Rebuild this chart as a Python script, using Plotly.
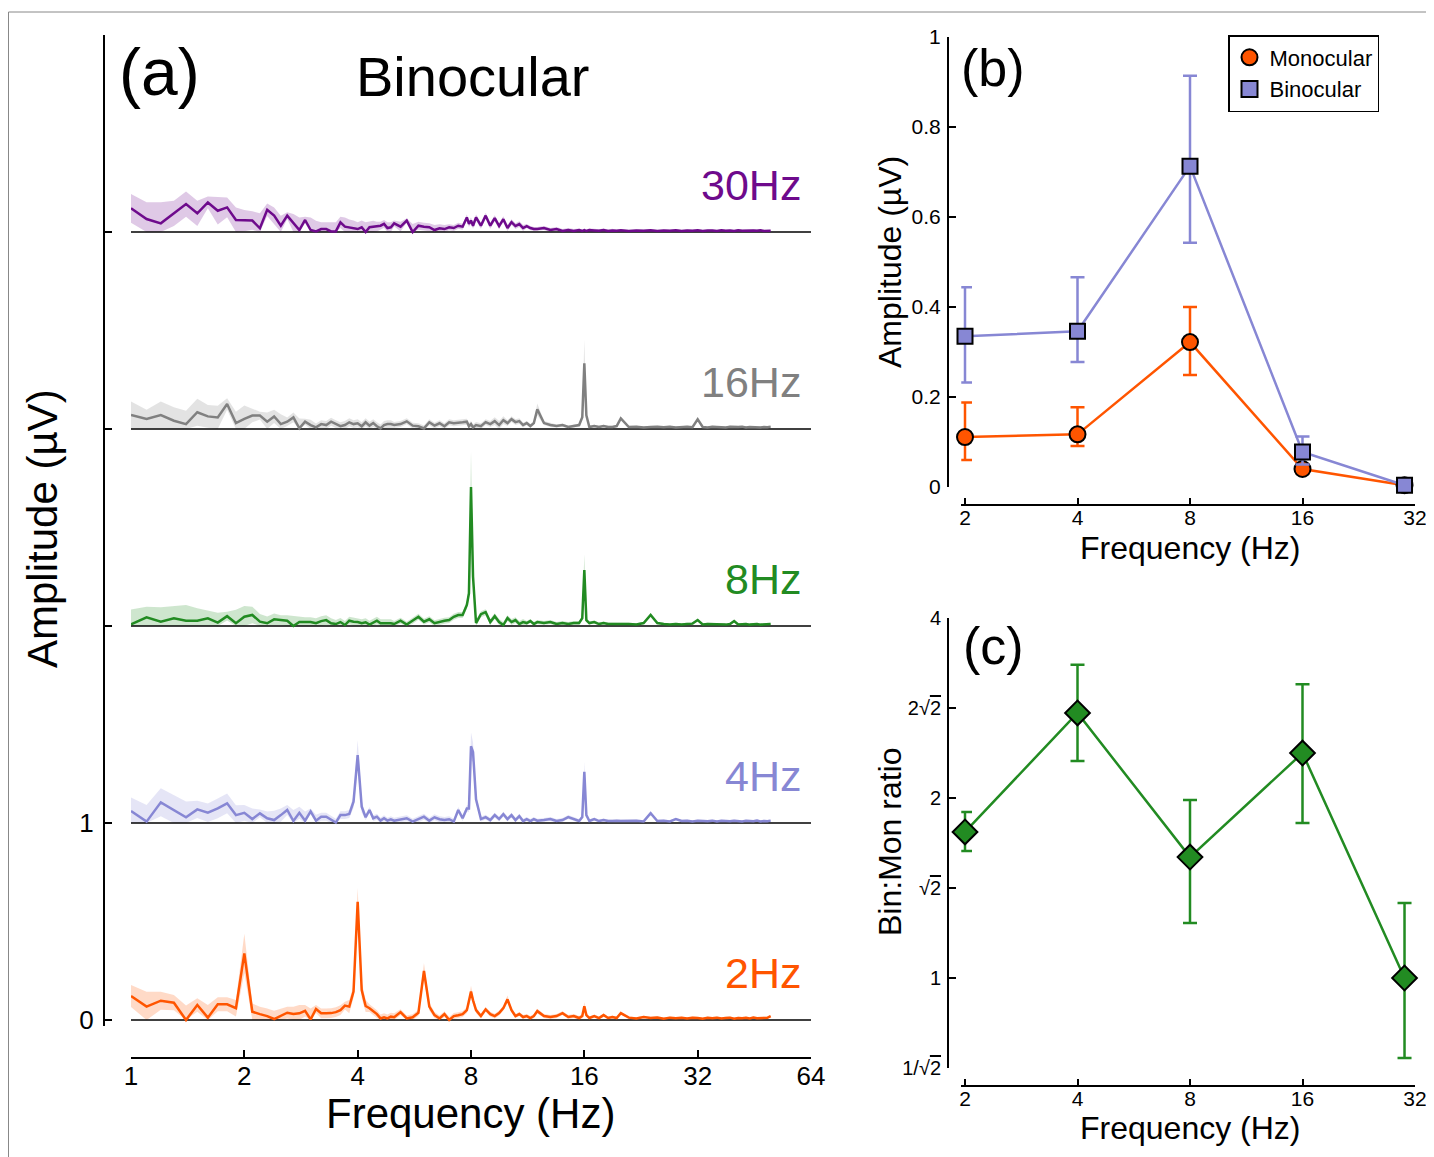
import numpy as np
import plotly.graph_objects as go

# ---------------- data: panel (a) spectra ----------------
FREQ = [1.0, 1.1, 1.2, 1.3, 1.4, 1.5, 1.6, 1.7, 1.8, 1.9,
        2.0, 2.1, 2.2, 2.3, 2.4, 2.5, 2.6, 2.7, 2.8, 2.9,
        3.0, 3.1, 3.2, 3.3, 3.4, 3.5, 3.6, 3.7, 3.8, 3.9,
        4.0, 4.1, 4.2, 4.3, 4.4, 4.5, 4.6, 4.7, 4.8, 4.9,
        5.0, 5.2, 5.4, 5.6, 5.8, 6.0, 6.2, 6.4, 6.6, 6.8,
        7.0, 7.2, 7.4, 7.6, 7.8, 7.9, 8.0, 8.1, 8.25, 8.5,
        8.75, 9.0, 9.25, 9.5, 9.75, 10.0, 10.25, 10.5, 10.75, 11.0,
        11.25, 11.5, 11.75, 12.0, 12.5, 13.0, 13.5, 14.0, 14.5, 15.0,
        15.5, 15.8, 16.0, 16.2, 16.5, 17.0, 17.5, 18.0, 18.5, 19.0,
        19.5, 20.0, 21, 22, 23, 24, 25, 26, 27, 28,
        29, 30, 31, 32, 33, 34, 35, 36, 37, 38,
        39, 40, 41, 42, 43, 44, 45, 46, 47, 48,
        49, 50]

AMP_2HZ = [0.122, 0.068, 0.098, 0.088, 0.0, 0.076, 0.012, 0.08, 0.08, 0.06,
           0.338, 0.042, 0.03, 0.02, 0.005, 0.02, 0.037, 0.03, 0.034, 0.047,
           0.003, 0.056, 0.034, 0.034, 0.035, 0.04, 0.05, 0.073, 0.068, 0.144,
           0.60, 0.152, 0.071, 0.06, 0.047, 0.03, 0.008, 0.014, 0.008, 0.017,
           0.014, 0.04, 0.008, 0.014, 0.037, 0.249, 0.068, 0.025, 0.008, 0.03,
           0.0, 0.02, 0.024, 0.03, 0.05, 0.09, 0.144, 0.10, 0.05, 0.02,
           0.054, 0.03, 0.02, 0.035, 0.06, 0.105, 0.05, 0.02, 0.03, 0.015,
           0.02, 0.01, 0.02, 0.045, 0.02, 0.015, 0.02, 0.035, 0.015, 0.02,
           0.01, 0.02, 0.07, 0.025, 0.01, 0.02, 0.01, 0.025, 0.01, 0.015,
           0.01, 0.035, 0.012, 0.008, 0.015, 0.01, 0.013, 0.007, 0.012, 0.009,
           0.011, 0.008, 0.012, 0.01, 0.007, 0.011, 0.009, 0.012, 0.008, 0.01,
           0.012, 0.007, 0.01, 0.009, 0.011, 0.008, 0.012, 0.009, 0.01, 0.008,
           0.011, 0.02]
SE_2HZ = [0.056, 0.076, 0.046, 0.039, 0.073, 0.034, 0.064, 0.036, 0.036, 0.042,
          0.10, 0.042, 0.037, 0.039, 0.042, 0.039, 0.03, 0.037, 0.042, 0.029,
          0.056, 0.02, 0.025, 0.025, 0.025, 0.025, 0.025, 0.02, 0.034, 0.03,
          0.07, 0.04, 0.03, 0.02, 0.02, 0.02, 0.02, 0.02, 0.02, 0.02,
          0.02, 0.015, 0.015, 0.015, 0.015, 0.04, 0.02, 0.015, 0.015, 0.015,
          0.015, 0.015, 0.015, 0.015, 0.015, 0.02, 0.03, 0.02, 0.015, 0.012,
          0.012, 0.012, 0.012, 0.012, 0.012, 0.02, 0.012, 0.01, 0.01, 0.01,
          0.01, 0.01, 0.01, 0.012, 0.01, 0.01, 0.01, 0.01, 0.01, 0.01,
          0.01, 0.01, 0.02, 0.01, 0.008, 0.008, 0.008, 0.008, 0.008, 0.008,
          0.006, 0.008, 0.006, 0.006, 0.006, 0.006, 0.006, 0.006, 0.006, 0.006,
          0.006, 0.006, 0.006, 0.006, 0.006, 0.006, 0.006, 0.006, 0.006, 0.006,
          0.006, 0.006, 0.006, 0.006, 0.006, 0.006, 0.006, 0.006, 0.006, 0.006,
          0.006, 0.006]

AMP_4HZ = [0.061, 0.007, 0.105, 0.066, 0.029, 0.069, 0.052, 0.074, 0.10, 0.04,
           0.052, 0.02, 0.049, 0.024, 0.015, 0.04, 0.066, 0.01, 0.052, 0.012,
           0.059, 0.012, 0.032, 0.032, 0.015, 0.002, 0.04, 0.04, 0.046, 0.108,
           0.345, 0.083, 0.029, 0.066, 0.024, 0.032, 0.012, 0.024, 0.012, 0.019,
           0.012, 0.019, 0.024, 0.007, 0.019, 0.032, 0.012, 0.029, 0.019, 0.015,
           0.019, 0.007, 0.066, 0.024, 0.074, 0.074, 0.39, 0.36, 0.12, 0.02,
           0.03, 0.015, 0.04, 0.02, 0.045, 0.02, 0.04, 0.015, 0.035, 0.01,
           0.02, 0.01, 0.02, 0.012, 0.015, 0.02, 0.01, 0.015, 0.03, 0.02,
           0.01, 0.03, 0.26, 0.04, 0.01, 0.02, 0.01, 0.015, 0.01, 0.01,
           0.012, 0.01, 0.01, 0.012, 0.008, 0.05, 0.01, 0.012, 0.008, 0.02,
           0.01, 0.012, 0.008, 0.011, 0.01, 0.009, 0.012, 0.008, 0.011, 0.01,
           0.009, 0.012, 0.01, 0.008, 0.011, 0.01, 0.009, 0.012, 0.008, 0.01,
           0.009, 0.012]
SE_4HZ = [0.069, 0.085, 0.071, 0.076, 0.08, 0.044, 0.047, 0.05, 0.05, 0.05,
          0.04, 0.054, 0.02, 0.034, 0.047, 0.034, 0.025, 0.056, 0.03, 0.046,
          0.015, 0.03, 0.02, 0.02, 0.02, 0.02, 0.02, 0.02, 0.02, 0.03,
          0.076, 0.03, 0.015, 0.015, 0.015, 0.015, 0.015, 0.015, 0.015, 0.015,
          0.015, 0.015, 0.015, 0.015, 0.015, 0.015, 0.015, 0.015, 0.015, 0.015,
          0.015, 0.015, 0.015, 0.015, 0.015, 0.02, 0.07, 0.05, 0.02, 0.012,
          0.012, 0.012, 0.012, 0.012, 0.012, 0.012, 0.012, 0.012, 0.012, 0.012,
          0.01, 0.01, 0.01, 0.01, 0.01, 0.01, 0.01, 0.01, 0.01, 0.01,
          0.01, 0.01, 0.05, 0.01, 0.008, 0.008, 0.008, 0.008, 0.008, 0.008,
          0.006, 0.006, 0.006, 0.006, 0.006, 0.006, 0.006, 0.006, 0.006, 0.006,
          0.006, 0.006, 0.006, 0.006, 0.006, 0.006, 0.006, 0.006, 0.006, 0.006,
          0.006, 0.006, 0.006, 0.006, 0.006, 0.006, 0.006, 0.006, 0.006, 0.006,
          0.006, 0.006]

AMP_8HZ = [0.008, 0.044, 0.022, 0.039, 0.027, 0.027, 0.039, 0.017, 0.05, 0.014,
           0.047, 0.056, 0.022, 0.014, 0.034, 0.03, 0.027, 0.0, 0.02, 0.02,
           0.02, 0.014, 0.025, 0.03, 0.014, 0.01, 0.02, 0.005, 0.027, 0.022,
           0.02, 0.014, 0.019, 0.007, 0.017, 0.027, 0.014, 0.014, 0.017, 0.014,
           0.01, 0.027, 0.007, 0.027, 0.047, 0.022, 0.034, 0.014, 0.022, 0.027,
           0.03, 0.047, 0.056, 0.056, 0.107, 0.166, 0.706, 0.25, 0.015, 0.06,
           0.07, 0.02, 0.05, 0.02, 0.005, 0.04, 0.02, 0.03, 0.01, 0.02,
           0.015, 0.025, 0.01, 0.02, 0.015, 0.02, 0.01, 0.015, 0.01, 0.015,
           0.015, 0.04, 0.284, 0.03, 0.015, 0.02, 0.01, 0.015, 0.01, 0.01,
           0.01, 0.012, 0.01, 0.008, 0.015, 0.056, 0.015, 0.01, 0.008, 0.01,
           0.008, 0.01, 0.012, 0.03, 0.008, 0.01, 0.009, 0.008, 0.01, 0.007,
           0.01, 0.025, 0.008, 0.009, 0.01, 0.007, 0.008, 0.01, 0.007, 0.008,
           0.009, 0.01]
SE_8HZ = [0.076, 0.054, 0.073, 0.063, 0.08, 0.063, 0.039, 0.05, 0.022, 0.068,
          0.054, 0.042, 0.039, 0.034, 0.03, 0.025, 0.027, 0.05, 0.027, 0.025,
          0.025, 0.025, 0.025, 0.025, 0.025, 0.02, 0.02, 0.02, 0.02, 0.02,
          0.02, 0.02, 0.02, 0.02, 0.02, 0.02, 0.02, 0.02, 0.02, 0.02,
          0.015, 0.015, 0.015, 0.015, 0.015, 0.015, 0.015, 0.015, 0.015, 0.015,
          0.015, 0.015, 0.015, 0.015, 0.02, 0.03, 0.18, 0.06, 0.015, 0.015,
          0.015, 0.015, 0.015, 0.015, 0.015, 0.015, 0.015, 0.015, 0.015, 0.015,
          0.01, 0.01, 0.01, 0.01, 0.01, 0.01, 0.01, 0.01, 0.01, 0.01,
          0.01, 0.01, 0.08, 0.01, 0.008, 0.008, 0.008, 0.008, 0.008, 0.008,
          0.006, 0.006, 0.006, 0.006, 0.006, 0.006, 0.006, 0.006, 0.006, 0.006,
          0.006, 0.006, 0.006, 0.006, 0.006, 0.006, 0.006, 0.006, 0.006, 0.006,
          0.006, 0.006, 0.006, 0.006, 0.006, 0.006, 0.006, 0.006, 0.006, 0.006,
          0.006, 0.006]

AMP_16HZ = [0.071, 0.051, 0.071, 0.042, 0.025, 0.085, 0.064, 0.059, 0.127, 0.03,
            0.051, 0.068, 0.068, 0.037, 0.064, 0.025, 0.037, 0.059, 0.003, 0.037,
            0.02, 0.008, 0.025, 0.02, 0.037, 0.025, 0.014, 0.02, 0.034, 0.025,
            0.029, 0.014, 0.034, 0.017, 0.03, 0.014, 0.003, 0.02, 0.025, 0.025,
            0.02, 0.025, 0.039, 0.017, 0.014, 0.003, 0.034, 0.017, 0.029, 0.014,
            0.034, 0.029, 0.03, 0.034, 0.037, 0.014, 0.025, 0.008, 0.02, 0.014,
            0.035, 0.025, 0.04, 0.02, 0.045, 0.03, 0.05, 0.035, 0.04, 0.02,
            0.03, 0.015, 0.03, 0.10, 0.03, 0.02, 0.015, 0.02, 0.01, 0.015,
            0.02, 0.06, 0.333, 0.07, 0.01, 0.015, 0.01, 0.015, 0.01, 0.01,
            0.015, 0.054, 0.01, 0.012, 0.008, 0.01, 0.012, 0.009, 0.011, 0.008,
            0.01, 0.012, 0.009, 0.049, 0.01, 0.008, 0.011, 0.009, 0.01, 0.008,
            0.011, 0.009, 0.01, 0.012, 0.008, 0.01, 0.009, 0.011, 0.008, 0.01,
            0.009, 0.012]
SE_16HZ = [0.068, 0.047, 0.068, 0.068, 0.068, 0.068, 0.058, 0.059, 0.029, 0.058,
           0.068, 0.034, 0.02, 0.047, 0.034, 0.05, 0.022, 0.025, 0.05, 0.015,
           0.027, 0.02, 0.02, 0.02, 0.02, 0.02, 0.02, 0.02, 0.02, 0.02,
           0.02, 0.02, 0.02, 0.02, 0.02, 0.02, 0.02, 0.02, 0.02, 0.02,
           0.015, 0.015, 0.015, 0.015, 0.015, 0.015, 0.015, 0.015, 0.015, 0.015,
           0.015, 0.015, 0.015, 0.015, 0.015, 0.015, 0.015, 0.015, 0.015, 0.015,
           0.015, 0.015, 0.02, 0.02, 0.02, 0.015, 0.015, 0.015, 0.015, 0.012,
           0.01, 0.01, 0.01, 0.03, 0.01, 0.01, 0.008, 0.008, 0.008, 0.008,
           0.008, 0.01, 0.12, 0.01, 0.008, 0.006, 0.006, 0.006, 0.006, 0.006,
           0.005, 0.005, 0.005, 0.005, 0.005, 0.005, 0.005, 0.005, 0.005, 0.005,
           0.005, 0.005, 0.005, 0.005, 0.005, 0.005, 0.005, 0.005, 0.005, 0.005,
           0.005, 0.005, 0.005, 0.005, 0.005, 0.005, 0.005, 0.005, 0.005, 0.005,
           0.005, 0.005]

AMP_30HZ = [0.12, 0.066, 0.044, 0.095, 0.142, 0.095, 0.15, 0.108, 0.125, 0.061,
            0.058, 0.058, 0.019, 0.113, 0.083, 0.032, 0.083, 0.044, 0.01, 0.061,
            0.01, 0.003, 0.015, 0.015, 0.003, 0.003, 0.049, 0.027, 0.024, 0.019,
            0.015, 0.024, 0.0, 0.024, 0.027, 0.027, 0.032, 0.041, 0.02, 0.024,
            0.044, 0.027, 0.058, 0.0, 0.032, 0.027, 0.024, 0.01, 0.019, 0.015,
            0.024, 0.02, 0.032, 0.027, 0.074, 0.041, 0.058, 0.032, 0.074, 0.032,
            0.083, 0.032, 0.07, 0.03, 0.065, 0.02, 0.05, 0.03, 0.04, 0.02,
            0.03, 0.02, 0.015, 0.015, 0.02, 0.01, 0.015, 0.005, 0.01, 0.005,
            0.01, 0.005, 0.01, 0.005, 0.01, 0.008, 0.006, 0.01, 0.005, 0.008,
            0.006, 0.009, 0.005, 0.008, 0.006, 0.009, 0.005, 0.008, 0.006, 0.009,
            0.005, 0.008, 0.006, 0.009, 0.005, 0.007, 0.008, 0.005, 0.009, 0.006,
            0.008, 0.005, 0.009, 0.006, 0.007, 0.005, 0.008, 0.006, 0.009, 0.005,
            0.007, 0.006]
SE_30HZ = [0.073, 0.085, 0.107, 0.064, 0.064, 0.064, 0.03, 0.07, 0.05, 0.064,
           0.054, 0.047, 0.076, 0.032, 0.042, 0.05, 0.017, 0.047, 0.064, 0.017,
           0.064, 0.054, 0.034, 0.034, 0.046, 0.046, 0.029, 0.047, 0.04, 0.04,
           0.035, 0.035, 0.05, 0.03, 0.03, 0.025, 0.02, 0.02, 0.03, 0.025,
           0.015, 0.025, 0.01, 0.04, 0.02, 0.02, 0.02, 0.025, 0.02, 0.02,
           0.015, 0.015, 0.015, 0.015, 0.015, 0.015, 0.015, 0.015, 0.015, 0.015,
           0.015, 0.015, 0.015, 0.015, 0.015, 0.015, 0.015, 0.015, 0.015, 0.015,
           0.01, 0.01, 0.01, 0.01, 0.01, 0.01, 0.01, 0.01, 0.01, 0.01,
           0.008, 0.008, 0.008, 0.008, 0.008, 0.008, 0.008, 0.008, 0.008, 0.008,
           0.005, 0.005, 0.005, 0.005, 0.005, 0.005, 0.005, 0.005, 0.005, 0.005,
           0.005, 0.005, 0.005, 0.005, 0.005, 0.005, 0.005, 0.005, 0.005, 0.005,
           0.005, 0.005, 0.005, 0.005, 0.005, 0.005, 0.005, 0.005, 0.005, 0.005,
           0.005, 0.005]

SPEC_LABELS = ["2Hz", "4Hz", "8Hz", "16Hz", "30Hz"]
SPEC_OFFSETS = [0, 1, 2, 3, 4]
SPEC_COLORS = ["#FF5500", "#8787D4", "#228B22", "#808080", "#6E0A8C"]
SPEC_FILLS = ["rgba(255,85,0,0.22)", "rgba(135,135,212,0.22)", "rgba(34,139,34,0.22)",
              "rgba(128,128,128,0.22)", "rgba(110,10,140,0.22)"]
SPEC_AMPS = [AMP_2HZ, AMP_4HZ, AMP_8HZ, AMP_16HZ, AMP_30HZ]
SPEC_SES = [SE_2HZ, SE_4HZ, SE_8HZ, SE_16HZ, SE_30HZ]

A_XTICKS = [1, 2, 4, 8, 16, 32, 64]
A_YTICKS = [0, 1, 2, 3, 4, 5]
A_YTICKTEXT = ["0", "1", "", "", "", ""]

# ---------------- data: panel (b) ----------------
STIM_FREQ = [2, 4, 8, 16, 30]
MONO = [0.111, 0.117, 0.322, 0.040, 0.004]
MONO_HI = [0.188, 0.177, 0.400, 0.050, 0.006]
MONO_LO = [0.060, 0.091, 0.249, 0.030, 0.002]
BINO = [0.335, 0.346, 0.713, 0.078, 0.004]
BINO_HI = [0.444, 0.466, 0.914, 0.112, 0.006]
BINO_LO = [0.232, 0.278, 0.543, 0.050, 0.002]
B_YTICKS = [0, 0.2, 0.4, 0.6, 0.8, 1]
B_YTICKTEXT = ["0", "0.2", "0.4", "0.6", "0.8", "1"]
BC_XTICKS = [2, 4, 8, 16, 32]

# ---------------- data: panel (c) ----------------
RATIO = [1.755, 2.775, 1.593, 2.378, 1.0]
RATIO_HI = [1.895, 3.34, 1.985, 3.10, 1.335]
RATIO_LO = [1.63, 2.307, 1.236, 1.816, 0.735]
C_YTICKS = [2 ** -0.5, 1, 2 ** 0.5, 2, 2 ** 1.5, 4]
OL = "<span style='text-decoration:overline'>2</span>"
C_YTICKTEXT = ["1/√" + OL, "1", "√" + OL, "2", "2√" + OL, "4"]

ORANGE = "#FF5500"
BLUE = "#8787D4"
GREEN = "#228B22"

# the page places the figure 8 px from the top-left corner of the window
OX, OY = 8, 8
W, H = 1434 - OX, 1157 - OY
FONT = "Liberation Sans, Arial, sans-serif"


def px(x):
    return (x - OX) / W


def py(y):
    return 1 - (y - OY) / H


fig = go.Figure()

# ---- panel (a) ----
freq = np.array(FREQ)
for lab, off, col, fcol, amp, se in zip(SPEC_LABELS, SPEC_OFFSETS, SPEC_COLORS,
                                        SPEC_FILLS, SPEC_AMPS, SPEC_SES):
    amp = np.array(amp)
    se = np.array(se)
    upper = off + amp + se
    lower = off + np.maximum(amp - se, 0)
    fig.add_trace(go.Scatter(
        x=np.concatenate([freq, freq[::-1]]),
        y=np.concatenate([upper, lower[::-1]]),
        fill="toself", fillcolor=fcol, line=dict(width=0),
        mode="lines", showlegend=False, hoverinfo="skip",
        xaxis="x", yaxis="y"))
    fig.add_trace(go.Scatter(
        x=[A_XTICKS[0], A_XTICKS[-1]], y=[off, off], mode="lines",
        line=dict(color="black", width=1.5), showlegend=False,
        hoverinfo="skip", xaxis="x", yaxis="y"))
    fig.add_trace(go.Scatter(
        x=freq, y=off + amp, mode="lines",
        line=dict(color=col, width=2.5), showlegend=False,
        name=lab, xaxis="x", yaxis="y"))
    fig.add_annotation(
        x=np.log10(61), y=off + 0.24, xref="x", yref="y",
        text=lab, showarrow=False, xanchor="right", yanchor="middle",
        font=dict(size=43, color=col, family=FONT))

# ---- panel (b) ----
for name, vals, hi, lo, col, sym in [("Monocular", MONO, MONO_HI, MONO_LO, ORANGE, "circle"),
                                     ("Binocular", BINO, BINO_HI, BINO_LO, BLUE, "square")]:
    v = np.array(vals)
    fig.add_trace(go.Scatter(
        x=STIM_FREQ, y=v, mode="lines+markers", name=name, showlegend=False,
        line=dict(color=col, width=2.5),
        marker=dict(symbol=sym, size=16 if sym == "circle" else 15, color=col,
                    line=dict(color="black", width=2)),
        error_y=dict(type="data", symmetric=False,
                     array=np.array(hi) - v, arrayminus=v - np.array(lo),
                     color=col, thickness=2.5, width=7),
        cliponaxis=False, xaxis="x2", yaxis="y2"))
    fig.add_trace(go.Scatter(
        x=[None], y=[None], mode="markers", name=name,
        marker=dict(symbol=sym, size=16, color=col, line=dict(color="black", width=2)),
        xaxis="x2", yaxis="y2"))

# ---- panel (c) ----
r = np.array(RATIO)
fig.add_trace(go.Scatter(
    x=STIM_FREQ, y=r, mode="lines+markers", showlegend=False, name="Bin:Mon",
    line=dict(color=GREEN, width=2.5),
    marker=dict(symbol="diamond", size=19, color=GREEN, line=dict(color="black", width=2)),
    error_y=dict(type="data", symmetric=False,
                 array=np.array(RATIO_HI) - r, arrayminus=r - np.array(RATIO_LO),
                 color=GREEN, thickness=2.5, width=7),
    cliponaxis=False, xaxis="x3", yaxis="y3"))

axis_common = dict(showline=True, linecolor="black", linewidth=2, showgrid=False,
                   zeroline=False, ticks="inside", tickcolor="black", tickwidth=2,
                   anchor="free", automargin=False)

# x-range for (b)/(c) padded slightly so the 2 Hz points stay inside the range
PAD = 0.01
bc_ppl = 450 / (np.log10(32) - np.log10(2))  # pixels per log10 unit
bc_xdom = [px(965 - PAD * bc_ppl), px(1415)]
bc_xrange = [np.log10(2) - PAD, np.log10(32)]

fig.update_layout(
    width=W, height=H, margin=dict(l=0, r=0, t=0, b=0, autoexpand=False),
    plot_bgcolor="white", paper_bgcolor="white",
    font=dict(family=FONT, color="black"),
    xaxis=dict(domain=[px(131), px(811)], type="log", range=[0, np.log10(64)],
               position=py(1058), tickvals=A_XTICKS,
               ticktext=[str(t) for t in A_XTICKS], ticklen=7,
               tickfont=dict(size=26), ticklabelstandoff=-5, **axis_common),
    yaxis=dict(domain=[py(1020 + 0.03 * 197), py(1020 - 5 * 197)], range=[-0.03, 5],
               position=px(104), tickvals=A_YTICKS, ticktext=A_YTICKTEXT, ticklen=7,
               tickfont=dict(size=26), ticklabelstandoff=4, **axis_common),
    xaxis2=dict(domain=bc_xdom, type="log", range=bc_xrange,
                position=py(505), tickvals=BC_XTICKS,
                ticktext=[str(t) for t in BC_XTICKS], ticklen=6,
                tickfont=dict(size=21), ticklabelstandoff=-6, **axis_common),
    yaxis2=dict(domain=[py(487), py(37)], range=[0, 1], position=px(948),
                tickvals=B_YTICKS, ticktext=B_YTICKTEXT, ticklen=7,
                tickfont=dict(size=21), ticklabelstandoff=2, **axis_common),
    xaxis3=dict(domain=bc_xdom, type="log", range=bc_xrange,
                position=py(1086), tickvals=BC_XTICKS,
                ticktext=[str(t) for t in BC_XTICKS], ticklen=6,
                tickfont=dict(size=21), ticklabelstandoff=-6, **axis_common),
    yaxis3=dict(domain=[py(1068), py(618)], type="log",
                range=[np.log10(2 ** -0.5), np.log10(4)], position=px(948),
                tickvals=C_YTICKS, ticktext=C_YTICKTEXT, ticklen=7,
                tickfont=dict(size=20), ticklabelstandoff=2, **axis_common),
    legend=dict(x=px(1228), y=py(35), xanchor="left", yanchor="top",
                bordercolor="black", borderwidth=1.5, bgcolor="white",
                font=dict(size=22, family=FONT), tracegroupgap=0,
                itemwidth=30),
    showlegend=True,
)

ann = [
    ("(a)", 159, 72, 66, 0),
    ("Binocular", 472, 77, 56, 0),
    ("Amplitude (µV)", 42, 529, 42, -90),
    ("Frequency (Hz)", 471, 1113, 42, 0),
    ("(b)", 993, 68, 52, 0),
    ("Amplitude (µV)", 890, 262, 32, -90),
    ("Frequency (Hz)", 1190, 548, 32, 0),
    ("(c)", 993, 646, 52, 0),
    ("Bin:Mon ratio", 890, 842, 32, -90),
    ("Frequency (Hz)", 1190, 1128, 32, 0),
]
for text, x, y, size, ang in ann:
    fig.add_annotation(x=px(x), y=py(y), xref="paper", yref="paper", text=text,
                       showarrow=False, xanchor="center", yanchor="middle",
                       textangle=ang, font=dict(size=size, family=FONT, color="black"))

# thin frame around the figure
fig.add_shape(type="rect", xref="paper", yref="paper", x0=px(8.5), y0=-0.01,
              x1=1.01, y1=py(12), line=dict(color="#888888", width=1))

fig.write_html("out.html")
